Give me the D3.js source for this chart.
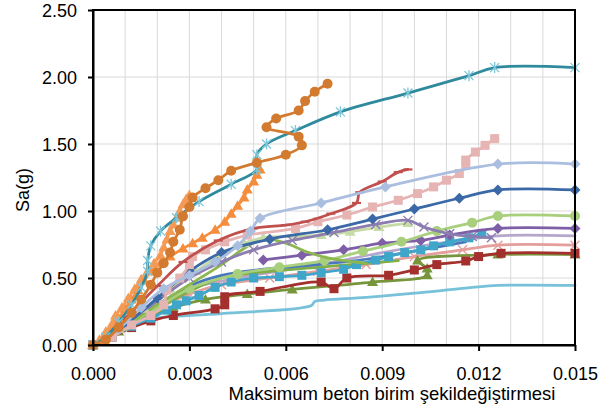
<!DOCTYPE html>
<html><head><meta charset="utf-8">
<script src="https://cdn.jsdelivr.net/npm/d3@7"></script>
<style>html,body{margin:0;padding:0;background:#fff;}svg{display:block;}</style>
</head><body>
<script>
// ---- data ----
const xTicks = [0, 0.003, 0.006, 0.009, 0.012, 0.015];
const yTicks = [0, 0.5, 1.0, 1.5, 2.0, 2.5];
const xTitle = "Maksimum beton birim şekildeğiştirmesi";
const yTitle = "Sa(g)";

const cyanLine = [[0,0],[0.0004,0.05],[0.0008,0.12],[0.0013,0.17],[0.0019,0.2],[0.004,0.235],[0.0068,0.295],[0.0069,0.325],[0.0072,0.335],[0.0085,0.355],[0.0102,0.39],[0.0118,0.43],[0.0126,0.445],[0.015,0.445]];
const redSquares = [[0,0],[0.0006,0.06],[0.0012,0.13],[0.0018,0.18],[0.0025,0.22],[0.0038,0.27],[0.0041,0.3],[0.0041,0.36],[0.0052,0.4],[0.0071,0.47],[0.0075,0.42],[0.0079,0.5],[0.0092,0.52],[0.01,0.56],[0.0107,0.6],[0.0116,0.627],[0.012,0.66],[0.0127,0.684],[0.015,0.684]];
const oliveTriangles = [[0,0],[0.0008,0.1],[0.0016,0.2],[0.0025,0.28],[0.0035,0.34],[0.0048,0.38],[0.0062,0.415],[0.0087,0.47],[0.0104,0.52],[0.0104,0.57],[0.0101,0.63],[0.0126,0.675],[0.015,0.675]];
const salmonX = [[0,0],[0.001,0.13],[0.002,0.27],[0.003,0.38],[0.004,0.45],[0.0055,0.5],[0.007,0.55],[0.0085,0.6],[0.01,0.66],[0.0115,0.71],[0.0126,0.745],[0.015,0.745]];
const lavenderLine = [[0,0],[0.001,0.15],[0.002,0.3],[0.003,0.42],[0.0045,0.5],[0.006,0.56],[0.0075,0.62],[0.009,0.69],[0.0105,0.75],[0.0117,0.79],[0.0126,0.815],[0.015,0.815]];
const cyanSquares = [[0,0],[0.0006,0.06],[0.0012,0.14],[0.0018,0.2],[0.0023,0.26],[0.0026,0.3],[0.0029,0.33],[0.0033,0.37],[0.0038,0.43],[0.0043,0.47],[0.005,0.5],[0.0058,0.51],[0.0065,0.52],[0.0071,0.54],[0.0078,0.565],[0.0082,0.6],[0.0088,0.634],[0.0092,0.66],[0.0097,0.69],[0.0102,0.71],[0.0106,0.74],[0.0111,0.77],[0.0117,0.8],[0.0121,0.83]];
const blueLine = [[0,0],[0.001,0.15],[0.002,0.3],[0.003,0.44],[0.004,0.52],[0.0055,0.57],[0.007,0.6],[0.0085,0.64],[0.01,0.7],[0.0116,0.77]];
const greenLine = [[0,0],[0.001,0.14],[0.002,0.3],[0.003,0.45],[0.004,0.6],[0.0047,0.72],[0.0053,0.79],[0.006,0.76],[0.0066,0.7],[0.0073,0.65],[0.0085,0.61]];
const greenLine2 = [[0,0],[0.001,0.13],[0.002,0.27],[0.003,0.4],[0.004,0.5],[0.0055,0.55],[0.007,0.58],[0.0085,0.61],[0.0095,0.63]];
const purpleDiamonds = [[0.0053,0.635],[0.0065,0.67],[0.0078,0.71],[0.009,0.76],[0.0102,0.78],[0.0111,0.82],[0.0126,0.87],[0.015,0.87]];
const lightGreenCircles = [[0,0],[0.001,0.14],[0.002,0.28],[0.003,0.42],[0.0045,0.53],[0.0058,0.58],[0.0072,0.63],[0.0084,0.7],[0.0096,0.77],[0.0107,0.85],[0.0118,0.913],[0.0126,0.963],[0.015,0.963]];
const grayPurpleX = [[0,0],[0.001,0.16],[0.002,0.33],[0.003,0.5],[0.004,0.62],[0.005,0.71],[0.0062,0.78],[0.0075,0.84],[0.0088,0.9],[0.0098,0.93],[0.0103,0.88],[0.0111,0.83],[0.0118,0.81],[0.0124,0.8]];
const paleGreenTriangles = [[0,0],[0.0008,0.12],[0.0016,0.27],[0.0024,0.42],[0.0032,0.55],[0.004,0.68],[0.0047,0.76],[0.0053,0.8],[0.0063,0.81],[0.0071,0.82],[0.008,0.845],[0.0089,0.88],[0.0098,0.91]];
const darkBlueDiamonds = [[0,0],[0.001,0.15],[0.002,0.35],[0.003,0.55],[0.004,0.69],[0.0055,0.79],[0.0073,0.86],[0.0087,0.94],[0.01,1.015],[0.0114,1.095],[0.0126,1.157],[0.015,1.157]];
const pinkSquares = [[0,0],[0.0006,0.06],[0.0012,0.15],[0.0018,0.22],[0.0022,0.3],[0.0023,0.41],[0.0027,0.5],[0.003,0.6],[0.0031,0.66],[0.0035,0.71],[0.0041,0.77],[0.0048,0.82],[0.0063,0.87],[0.007,0.92],[0.0079,0.97],[0.0087,1.03],[0.0095,1.08],[0.0101,1.13],[0.0106,1.18],[0.011,1.23],[0.0114,1.28],[0.0116,1.34],[0.0116,1.38],[0.0119,1.44],[0.0122,1.49],[0.0125,1.54]];
const redDash = [[0,0],[0.001,0.2],[0.002,0.44],[0.0028,0.62],[0.0039,0.78],[0.005,0.87],[0.006,0.895],[0.0066,0.92],[0.0074,0.98],[0.0082,1.06],[0.0083,1.14],[0.009,1.22],[0.0095,1.29],[0.0098,1.31]];
const steelDiamonds = [[0,0],[0.0008,0.12],[0.0015,0.28],[0.0022,0.42],[0.003,0.52],[0.0038,0.62],[0.0045,0.74],[0.0049,0.85],[0.0052,0.945],[0.0071,1.06],[0.0091,1.18],[0.0126,1.35],[0.015,1.35]];
const orangeTri2 = [[0,0],[0.0002,0.03],[0.0004,0.08],[0.0006,0.14],[0.0008,0.2],[0.001,0.27],[0.0012,0.34],[0.0014,0.41],[0.0016,0.48],[0.0018,0.55],[0.0021,0.61],[0.0024,0.66],[0.0028,0.72],[0.0031,0.76],[0.0034,0.8],[0.0038,0.86],[0.0041,0.92],[0.0043,0.98],[0.0045,1.04],[0.0047,1.1],[0.0048,1.16],[0.0050,1.22],[0.0051,1.27],[0.0052,1.31]];
const orangeTri1 = [[0,0],[0.0002,0.04],[0.0004,0.1],[0.0006,0.16],[0.0007,0.22],[0.0009,0.28],[0.0011,0.35],[0.0013,0.42],[0.0015,0.49],[0.0017,0.55],[0.0019,0.61],[0.0021,0.67],[0.0022,0.73],[0.0023,0.79],[0.0024,0.85],[0.0025,0.9],[0.0026,0.95],[0.0027,1.0],[0.0028,1.05],[0.0029,1.09],[0.003,1.12]];
const tealStars = [[0,0],[0.0004,0.06],[0.0008,0.17],[0.0012,0.3],[0.0015,0.43],[0.0017,0.55],[0.0017,0.63],[0.0018,0.74],[0.0021,0.85],[0.0026,0.95],[0.0033,1.07],[0.0043,1.2],[0.0051,1.31],[0.0051,1.42],[0.0054,1.5],[0.0063,1.6],[0.0077,1.74],[0.0098,1.88],[0.0117,2.01],[0.0125,2.07],[0.015,2.07]];
const orangeCircles = [[0,0],[0.0004,0.04],[0.0008,0.13],[0.0012,0.24],[0.0015,0.34],[0.0018,0.45],[0.002,0.54],[0.0022,0.61],[0.0024,0.69],[0.0025,0.77],[0.0027,0.86],[0.0028,0.96],[0.003,1.03],[0.0031,1.1],[0.0035,1.17],[0.0039,1.23],[0.0043,1.3],[0.0051,1.36],[0.006,1.42],[0.0065,1.49],[0.0064,1.555],[0.0054,1.625],[0.0057,1.69],[0.0064,1.75],[0.0066,1.82],[0.0069,1.89],[0.0073,1.95]];

const series = [
  {d: cyanLine, c:"#77C1D9", m:"none"},
  {d: lavenderLine, c:"#B6A6CB", m:"none"},
  {d: salmonX, c:"#E49E9C", m:"x"},
  {d: greenLine2, c:"#7FAE45", m:"none"},
  {d: blueLine, c:"#4A78BC", m:"none"},
  {d: oliveTriangles, c:"#77953B", m:"triangle"},
  {d: redSquares, c:"#A3302D", m:"square"},
  {d: cyanSquares, c:"#3FA6CA", m:"square"},
  {d: purpleDiamonds, c:"#7D5EA7", m:"diamond"},
  {d: lightGreenCircles, c:"#A8CF7B", m:"circle"},
  {d: greenLine, c:"#8DB64F", m:"none"},
  {d: paleGreenTriangles, c:"#C6DBA6", m:"triangle"},
  {d: grayPurpleX, c:"#8C7DB0", m:"x"},
  {d: darkBlueDiamonds, c:"#3B68A6", m:"diamond"},
  {d: pinkSquares, c:"#E5B4B3", m:"square"},
  {d: redDash, c:"#C0504D", m:"dash"},
  {d: steelDiamonds, c:"#AABFDF", m:"diamond"},
  {d: orangeTri2, c:"#F48E3E", m:"triangle"},
  {d: orangeTri1, c:"#F59A55", m:"triangle"},
  {d: tealStars, c:"#2F8A9E", m:"star"},
  {d: orangeCircles, c:"#D27A2F", m:"circle"}
];

// ---- chart ----
const W = 609, H = 417;
const L = 93, R = 575, T = 10, B = 345;
const svg = d3.select("body").append("svg").attr("width", W).attr("height", H);
const x = d3.scaleLinear().domain([0, 0.015]).range([L, R]);
const y = d3.scaleLinear().domain([0, 2.5]).range([B, T]);
const font = "Liberation Sans, Arial, sans-serif";
const fs = 18;

// gridlines
const vGrid = d3.range(1, 15).map(i => i * 0.001);
svg.append("g").selectAll("line").data(vGrid).join("line")
  .attr("x1", d => x(d)).attr("x2", d => x(d)).attr("y1", T).attr("y2", B)
  .attr("stroke", "#D9D9D9").attr("stroke-width", 1);
svg.append("g").selectAll("line").data(yTicks.slice(1, -1)).join("line")
  .attr("x1", L).attr("x2", R).attr("y1", d => y(d)).attr("y2", d => y(d))
  .attr("stroke", "#D9D9D9").attr("stroke-width", 1);

// series
const lineGen = d3.line().x(d => x(d[0])).y(d => y(d[1])).curve(d3.curveCatmullRom.alpha(0.5));
const gS = svg.append("g");
function marker(g, type, c) {
  if (type === "circle") g.append("circle").attr("r", 5).attr("fill", c);
  else if (type === "square") g.append("rect").attr("x", -4.5).attr("y", -4.5).attr("width", 9).attr("height", 9).attr("fill", c);
  else if (type === "diamond") g.append("path").attr("d", "M0,-5.5L5.5,0L0,5.5L-5.5,0Z").attr("fill", c);
  else if (type === "triangle") g.append("path").attr("d", "M0,-5.5L5.5,4L-5.5,4Z").attr("fill", c);
  else if (type === "x") g.append("path").attr("d", "M-4.5,-4.5L4.5,4.5M-4.5,4.5L4.5,-4.5").attr("stroke", c).attr("stroke-width", 1.4);
  else if (type === "star") g.append("path").attr("d", "M-4.5,-4.5L4.5,4.5M-4.5,4.5L4.5,-4.5M0,-5.5L0,5.5").attr("stroke", "#7EC6DA").attr("stroke-width", 1.3);
  else if (type === "dash") g.append("path").attr("d", "M-4.5,0L4.5,0").attr("stroke", c).attr("stroke-width", 2.2);
}
series.forEach(s => {
  const g = gS.append("g");
  g.append("path").datum(s.d).attr("d", lineGen).attr("fill", "none")
    .attr("stroke", s.c).attr("stroke-width", 2.75).attr("stroke-linejoin", "round").attr("stroke-linecap", "round");
  if (s.m !== "none") {
    g.selectAll("g.mk").data(s.d).join("g").attr("class", "mk")
      .attr("transform", d => `translate(${x(d[0])},${y(d[1])})`)
      .each(function () { marker(d3.select(this), s.m, s.c); });
  }
});

// frame
svg.append("rect").attr("x", L).attr("y", T).attr("width", R - L).attr("height", B - T)
  .attr("fill", "none").attr("stroke", "#000").attr("stroke-width", 2);

// axes
const xAxis = d3.axisBottom(x).tickValues(xTicks).tickFormat(d3.format(".3f")).tickSize(6).tickSizeOuter(0);
const gx = svg.append("g").attr("transform", `translate(0,${B})`).call(xAxis);
gx.select(".domain").attr("stroke", "#000").attr("stroke-width", 2);
gx.selectAll(".tick line").attr("stroke", "#000").attr("stroke-width", 2);
gx.selectAll("text").attr("font-family", font).attr("font-size", fs).attr("fill", "#000").attr("dy", "0").attr("y", 35);

const yAxis = d3.axisLeft(y).tickValues(yTicks).tickFormat(d3.format(".2f")).tickSize(5).tickSizeOuter(0);
const gy = svg.append("g").attr("transform", `translate(${L},0)`).call(yAxis);
gy.select(".domain").attr("stroke", "#000").attr("stroke-width", 2);
gy.selectAll(".tick line").attr("stroke", "#000").attr("stroke-width", 2);
gy.selectAll("text").attr("font-family", font).attr("font-size", fs).attr("fill", "#000").attr("x", -16).attr("dy", "0.37em");

// titles
svg.append("text").attr("x", 392).attr("y", 400).attr("text-anchor", "middle")
  .attr("font-family", font).attr("font-size", 18.5).attr("fill", "#000").text(xTitle);
svg.append("text").attr("transform", "translate(29,190) rotate(-90)").attr("text-anchor", "middle")
  .attr("font-family", font).attr("font-size", fs).attr("fill", "#000").text(yTitle);
</script>
</body></html>
